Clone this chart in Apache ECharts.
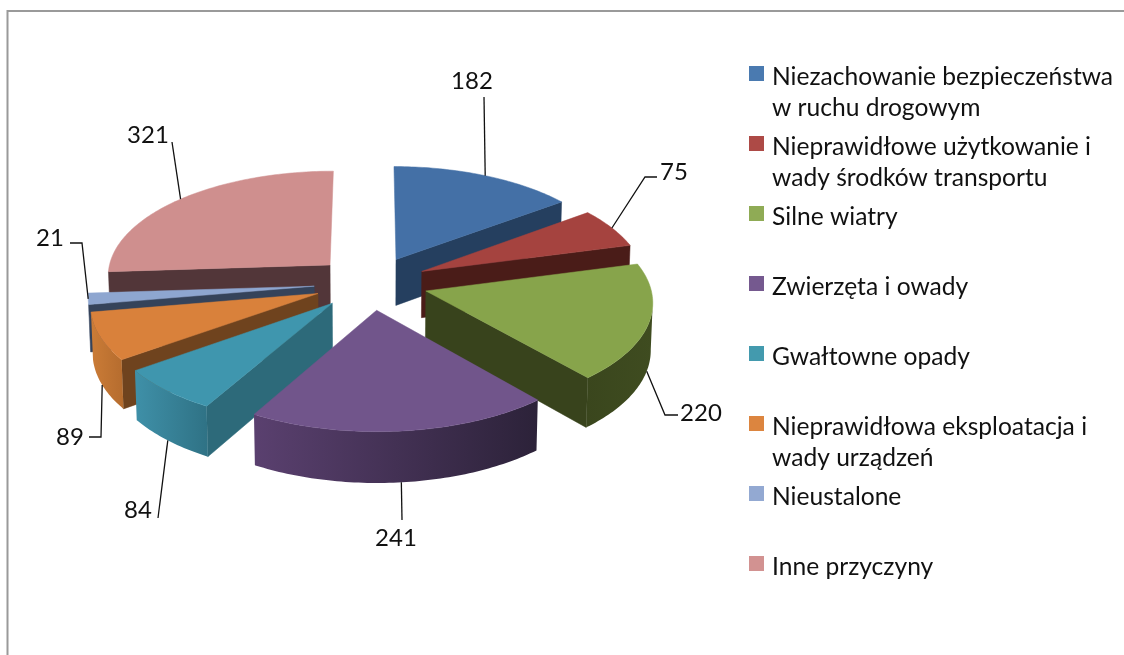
<!DOCTYPE html>
<html>
<head>
<meta charset="utf-8">
<style>
  html, body { margin: 0; padding: 0; background: #fff; }
  #chart { width: 1124px; height: 655px; }
</style>
<script src="https://cdn.jsdelivr.net/npm/echarts@6/dist/echarts.min.js"></script>
</head>
<body>
<div id="chart"></div>
<script>
const categories = [
  'Niezachowanie bezpieczeństwa\nw ruchu drogowym',
  'Nieprawidłowe użytkowanie i\nwady środków transportu',
  'Silne wiatry',
  'Zwierzęta i owady',
  'Gwałtowne opady',
  'Nieprawidłowa eksploatacja i\nwady urządzeń',
  'Nieustalone',
  'Inne przyczyny',
];
const values = [182, 75, 220, 241, 84, 89, 21, 321];

const TOP_COLOR = ['#4470a6', '#a5433f', '#87a44b', '#71558b', '#3f96ae', '#d9813b', '#8ea6d0', '#cf8f8e'];
const LEGEND_COLOR = ['#4a7ab0', '#ad4a46', '#8fab55', '#75598f', '#439aae', '#dc853f', '#93a9d2', '#d29291'];
const FACE_COLOR = ['#253f5f', '#4a1c18', '#38431c', '#2c2238', '#2d6a7a', '#6f431e', '#35435a', '#523639'];
const WALL_LEFT = ['#325478', '#7a302c', '#3a461d', '#5a406f', '#3f90a8', '#cb7c37', '#6a7da0', '#94605f'];
const WALL_RIGHT = ['#253f5f', '#4a1c18', '#3f4c20', '#2c2239', '#2f7285', '#b56c2e', '#35435a', '#523639'];

// where the number and the elbow of its leader sit, in page pixels
const LABEL_POS = [[472, 81], [674, 172], [701, 413], [396, 538], [138, 510], [70, 437], [50, 238], [148, 135]];
const LABEL_ELBOW = [[484, 97], [645, 177], [665, 415], [402, 520], [158, 518], [101, 437], [82, 243], [172, 142]];
const LABEL_TAIL = [null, [657, 177], [678, 415], null, null, [89, 437], [70, 243], null];

// pie shape: centre, radius, explosion, thickness and camera
const CX = 371;
const CY = 283;
const RADIUS = 224;
const EXPLODE = 57;
const DEPTH = 47;
const SQUASH = 0.47;
const PERSPECTIVE = 0.0004;
const PERSPECTIVE_Z = 0.00015;

const total = values.reduce((sum, v) => sum + v, 0);
const rad = (deg) => (deg * Math.PI) / 180;

const spans = [];
let running = 0;
values.forEach((v) => {
  const start = (running / total) * 360;
  running += v;
  spans.push({ start, end: (running / total) * 360, mid: (start + (running / total) * 360) / 2 });
});

const project = (x, y, z) => {
  const s = 1 / (1 + PERSPECTIVE * y - PERSPECTIVE_Z * z);
  return [CX + x * s, CY - (y * SQUASH + z) * s];
};

const slicePoint = (span, r, angle, z) => {
  const ox = EXPLODE * Math.sin(rad(span.mid));
  const oy = EXPLODE * Math.cos(rad(span.mid));
  return project(ox + r * Math.sin(rad(angle)), oy + r * Math.cos(rad(angle)), z);
};

const polygon = (points, fill) => ({
  type: 'polygon',
  shape: { points },
  style: { fill, stroke: fill, lineWidth: 0.5 },
});

const renderSlice = (index) => () => {
  const span = spans[index];
  const apexTop = slicePoint(span, 0, 0, 0);
  const apexLow = slicePoint(span, 0, 0, -DEPTH);
  const angles = [];
  for (let a = span.start; a < span.end; a += 1) angles.push(a);
  angles.push(span.end);
  const rimTop = angles.map((a) => slicePoint(span, RADIUS, a, 0));
  const rimLow = angles.map((a) => slicePoint(span, RADIUS, a, -DEPTH));
  const children = [];

  // radial walls: one shows only when the top of the slice lies above its edge
  const midTop = slicePoint(span, RADIUS, span.mid, 0);
  [0, angles.length - 1].forEach((i) => {
    const dx = rimTop[i][0] - apexTop[0];
    const dy = rimTop[i][1] - apexTop[1];
    const cross = dx * (midTop[1] - apexTop[1]) - dy * (midTop[0] - apexTop[0]);
    if (Math.abs(dx) > 4 && ((dx > 0 && cross < 0) || (dx < 0 && cross > 0))) {
      children.push(polygon([apexTop, rimTop[i], rimLow[i], apexLow], FACE_COLOR[index]));
    }
  });

  // curved outer wall, only the part that runs right to left on screen
  const front = angles.map((_, i) => i).filter((i) => (
    i < angles.length - 1 ? rimTop[i + 1][0] < rimTop[i][0] : rimTop[i][0] < rimTop[i - 1][0]
  ));
  if (front.length > 1) {
    children.push({
      type: 'polygon',
      shape: { points: front.map((i) => rimTop[i]).concat(front.map((i) => rimLow[i]).reverse()) },
      style: {
        fill: new echarts.graphic.LinearGradient(0, 0, 1, 0, [
          { offset: 0, color: WALL_LEFT[index] },
          { offset: 1, color: WALL_RIGHT[index] },
        ]),
      },
    });
  }

  children.push(polygon([apexTop].concat(rimTop), TOP_COLOR[index]));
  return { type: 'group', children };
};

const renderLabel = (params, api) => {
  const index = params.dataIndex;
  const span = spans[index];
  const anchor = slicePoint(span, RADIUS, span.mid, Math.cos(rad(span.mid)) < -0.2 ? -DEPTH : 0);
  const line = [anchor, LABEL_ELBOW[index]];
  if (LABEL_TAIL[index]) line.push(LABEL_TAIL[index]);
  return {
    type: 'group',
    children: [
      { type: 'polyline', shape: { points: line }, style: { stroke: '#111', lineWidth: 1.3, fill: 'none' } },
      {
        type: 'text',
        style: {
          x: LABEL_POS[index][0],
          y: LABEL_POS[index][1],
          text: String(api.value(0)),
          align: 'center',
          verticalAlign: 'middle',
          fill: '#111',
          font: '24px Lato',
        },
      },
    ],
  };
};

const sliceSeries = categories.map((name, index) => ({
  name,
  type: 'custom',
  coordinateSystem: 'none',
  silent: true,
  // back slices are painted first
  z: 10 - Math.cos(rad(spans[index].mid)) * 5,
  itemStyle: { color: LEGEND_COLOR[index] },
  renderItem: renderSlice(index),
  data: [values[index]],
}));

const chart = echarts.init(document.getElementById('chart'), null, { renderer: 'canvas' });
chart.setOption({
  animation: false,
  backgroundColor: '#fff',
  legend: {
    left: 749,
    top: 62,
    padding: 0,
    orient: 'vertical',
    data: categories,
    selectedMode: false,
    itemWidth: 15,
    itemHeight: 62,
    itemGap: 8,
    // marker sits beside the first text line, single lines get a blank second one
    icon: 'path://M0,4H15V19H0Z M0,0L0,0Z M0,62L15,62Z',
    formatter: (name) => (name.includes('\n') ? name : `${name}\n `),
    textStyle: { fontFamily: 'Lato', fontSize: 24.6, lineHeight: 31, color: '#111', padding: [0, 0, 0, 3] },
  },
  graphic: [
    {
      type: 'polyline',
      silent: true,
      shape: { points: [[7.5, 655], [7.5, 11], [1124, 11]] },
      style: { stroke: '#9a9a9a', lineWidth: 2, fill: 'none' },
    },
  ],
  series: sliceSeries.concat([
    {
      name: 'labels',
      type: 'custom',
      coordinateSystem: 'none',
      silent: true,
      z: 30,
      renderItem: renderLabel,
      data: values,
    },
  ]),
});

window.addEventListener('resize', () => chart.resize());
</script>
</body>
</html>
